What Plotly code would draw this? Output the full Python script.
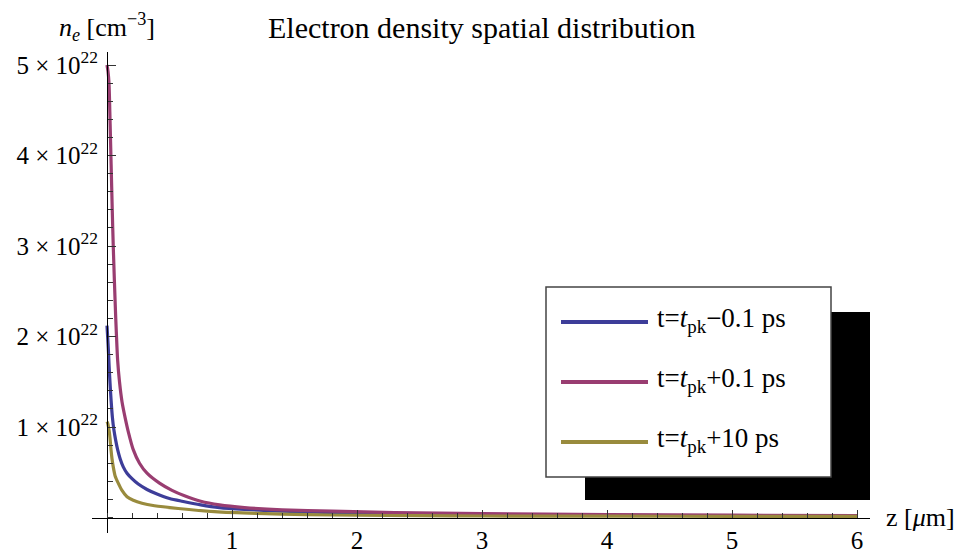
import plotly.graph_objects as go

# ---- data (n_e in units of 1e22 cm^-3, z in micrometres) ----
z_minus = [0, 0.005, 0.011, 0.017, 0.024, 0.033, 0.043, 0.055, 0.07, 0.085, 0.105, 0.13,
           0.16, 0.2, 0.25, 0.32, 0.4, 0.5, 0.6, 0.75, 0.9, 1.1, 1.4, 1.8, 2.3, 3.0, 4.0, 5.0, 6.0]
ne_minus = [2.12, 2.0, 1.85, 1.67, 1.49, 1.29, 1.11, 0.97, 0.85, 0.75, 0.65, 0.56,
            0.49, 0.43, 0.37, 0.31, 0.26, 0.21, 0.18, 0.14, 0.11, 0.09, 0.07, 0.055, 0.045,
            0.035, 0.025, 0.02, 0.017]

z_plus = [0, 0.008, 0.016, 0.025, 0.033, 0.042, 0.05, 0.059, 0.07, 0.085, 0.1, 0.12,
          0.144, 0.17, 0.21, 0.26, 0.32, 0.42, 0.52, 0.62, 0.75, 0.9, 1.1, 1.4, 1.8, 2.3,
          3.0, 4.0, 5.0, 6.0]
ne_plus = [5.0, 4.93, 4.8, 4.35, 3.9, 3.4, 3.0, 2.62, 2.2, 1.74, 1.5, 1.28,
           1.11, 0.95, 0.75, 0.6, 0.49, 0.38, 0.3, 0.24, 0.18, 0.14, 0.11, 0.085, 0.07, 0.055,
           0.042, 0.032, 0.026, 0.022]

z_late = [0, 0.006, 0.012, 0.018, 0.024, 0.032, 0.04, 0.05, 0.065, 0.09, 0.12, 0.16,
          0.21, 0.28, 0.38, 0.57, 0.86, 1.2, 1.6, 2.0, 2.5, 3.0, 4.0, 5.0, 6.0]
ne_late = [1.06, 1.04, 1.0, 0.95, 0.88, 0.75, 0.65, 0.56, 0.46, 0.38, 0.3, 0.23,
           0.19, 0.157, 0.13, 0.10, 0.065, 0.045, 0.032, 0.025, 0.02, 0.017, 0.015, 0.013, 0.013]

series_names = ["t=<i>t</i><sub>pk</sub>\u22120.1 ps",
                "t=<i>t</i><sub>pk</sub>+0.1 ps",
                "t=<i>t</i><sub>pk</sub>+10 ps"]
series_colors = ["#3d3d99", "#993d71", "#998b3d"]

x_ticks = [1, 2, 3, 4, 5, 6]
y_ticks = [1e22, 2e22, 3e22, 4e22, 5e22]
y_ticktext = ["1 \u00d7 10<sup>22</sup>", "2 \u00d7 10<sup>22</sup>", "3 \u00d7 10<sup>22</sup>",
              "4 \u00d7 10<sup>22</sup>", "5 \u00d7 10<sup>22</sup>"]

FONT = "Liberation Serif, Times New Roman, serif"
SCALE = 1e22

# plot-area pixel geometry (layout only)
L, R, T, B = 92, 870, 52, 533
W, H = 959, 554


def px(xp):
    return (xp - L) / (R - L)


def py(yp):
    return (B - yp) / (B - T)


fig = go.Figure()
for zs, vals, name, col in [(z_minus, ne_minus, series_names[0], series_colors[0]),
                            (z_plus, ne_plus, series_names[1], series_colors[1]),
                            (z_late, ne_late, series_names[2], series_colors[2])]:
    fig.add_trace(go.Scatter(x=zs, y=[v * SCALE for v in vals], mode="lines", name=name,
                             showlegend=False,
                             line=dict(color=col, width=3.2, shape="spline", smoothing=0.6)))

xmin, xmax = -0.12, 6.104
ymin, ymax = -0.171e22, 5.144e22

fig.update_layout(
    width=W, height=H,
    margin=dict(l=L, r=W - R, t=T, b=H - B, autoexpand=False),
    paper_bgcolor="white", plot_bgcolor="white",
    font=dict(family=FONT, size=25, color="black"),
    showlegend=False,
    xaxis=dict(range=[xmin, xmax], anchor="free", position=(0 - ymin) / (ymax - ymin),
               automargin=False,
               showline=True, linecolor="black", linewidth=1, zeroline=False, showgrid=False,
               tickmode="array", tickvals=x_ticks, ticks="inside", ticklen=8, tickwidth=1,
               tickcolor="#333333", ticklabelstandoff=0,
               minor=dict(dtick=0.2, tick0=0, ticks="inside", ticklen=5, tickcolor="#333333"),
               tickfont=dict(family=FONT, size=25)),
    yaxis=dict(range=[ymin, ymax], anchor="free", position=(0 - xmin) / (xmax - xmin),
               automargin=False,
               showline=True, linecolor="black", linewidth=1, zeroline=False, showgrid=False,
               tickmode="array", tickvals=y_ticks, ticktext=y_ticktext, ticks="inside",
               ticklen=8, tickwidth=1, tickcolor="#333333", ticklabelstandoff=4,
               minor=dict(dtick=0.2e22, tick0=0, ticks="inside", ticklen=5, tickcolor="#333333"),
               tickfont=dict(family=FONT, size=25)),
)

# legend: drop shadow, box, line samples and labels
fig.add_shape(type="rect", xref="paper", yref="paper",
              x0=px(585), x1=px(870), y0=py(500), y1=py(312),
              fillcolor="black", line=dict(width=0), layer="above")
fig.add_shape(type="rect", xref="paper", yref="paper",
              x0=px(546), x1=px(831), y0=py(477), y1=py(287),
              fillcolor="white", line=dict(color="#444444", width=1.5), layer="above")
for i, (name, col) in enumerate(zip(series_names, series_colors)):
    yrow = 322 + 60 * i
    fig.add_shape(type="line", xref="paper", yref="paper",
                  x0=px(561), x1=px(648), y0=py(yrow), y1=py(yrow),
                  line=dict(color=col, width=4), layer="above")
    fig.add_annotation(text=name, xref="paper", yref="paper", x=px(655), y=py(yrow - 2),
                       xanchor="left", yanchor="middle", showarrow=False,
                       font=dict(family=FONT, size=27, color="black"))

fig.add_annotation(text="Electron density spatial distribution", xref="paper", yref="paper",
                   x=0.5, y=py(27), xanchor="center", yanchor="middle",
                   showarrow=False, font=dict(family=FONT, size=30))
fig.add_annotation(text="<i>n</i><sub><i>e</i></sub> [cm<sup>\u22123</sup>]", xref="x", yref="paper",
                   x=0, y=py(27), xanchor="center", yanchor="middle",
                   showarrow=False, font=dict(family=FONT, size=26))
fig.add_annotation(text="z [<i>\u03bc</i>m]", xref="paper", yref="y",
                   x=1, y=0, xanchor="left", yanchor="middle", xshift=14,
                   showarrow=False, font=dict(family=FONT, size=26))

fig.write_html("out.html")
